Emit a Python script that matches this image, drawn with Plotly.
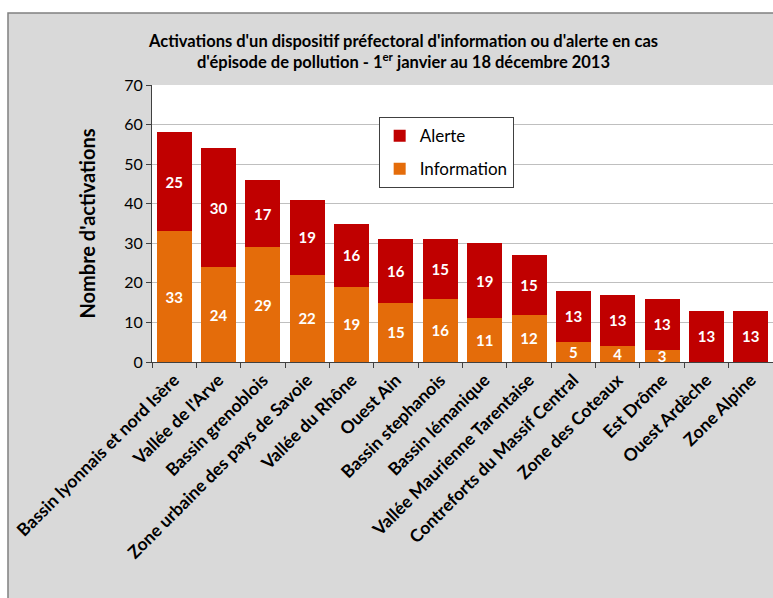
import plotly.graph_objects as go

categories = ["Bassin lyonnais et nord Isère", "Vallée de l'Arve", "Bassin grenoblois",
              "Zone urbaine des pays de Savoie", "Vallée du Rhône", "Ouest Ain",
              "Bassin stephanois", "Bassin lémanique", "Vallée Maurienne Tarentaise",
              "Contreforts du Massif Central", "Zone des Coteaux", "Est Drôme",
              "Ouest Ardèche", "Zone Alpine"]
information = [33, 24, 29, 22, 19, 15, 16, 11, 12, 5, 4, 3, 0, 0]
alerte = [25, 30, 17, 19, 16, 16, 15, 19, 15, 13, 13, 13, 13, 13]

FONT = "Lato"
fig = go.Figure()
fig.add_bar(x=categories, y=information, name="Information", legendgroup="info",
            legendrank=2,
            marker=dict(color="#E46C0A", line=dict(width=0)),
            text=[str(v) if v else "" for v in information], textposition="inside",
            insidetextanchor="middle", textangle=0, constraintext="none",
            textfont=dict(color="white", size=15, family=FONT, weight="bold"))
fig.add_bar(x=categories, y=alerte, name="Alerte", legendgroup="alerte",
            legendrank=1,
            marker=dict(color="#C00000", line=dict(width=0)),
            text=[str(v) if v else "" for v in alerte], textposition="inside",
            insidetextanchor="middle", textangle=0, constraintext="none",
            textfont=dict(color="white", size=15, family=FONT, weight="bold"))

fig.update_layout(
    width=773, height=598,
    barmode="stack", bargap=0.21,
    paper_bgcolor="white", plot_bgcolor="rgba(0,0,0,0)",
    margin=dict(l=152, r=0, t=85, b=236),
    font=dict(family=FONT, color="black"),
    title=dict(text="<b>Activations d'un dispositif préfectoral d'information ou d'alerte en cas<br>d'épisode de pollution - 1<sup>er</sup> janvier au 18 décembre 2013</b>",
               x=0.522, xanchor="center", xref="container", y=0.922, yanchor="middle",
               font=dict(size=16.5, family=FONT, color="black")),
    legend=dict(x=0.365, y=0.884, xanchor="left", yanchor="top", traceorder="grouped",
                bgcolor="white", bordercolor="#404040", borderwidth=1,
                font=dict(size=17, family=FONT), itemsizing="constant", tracegroupgap=8),
    showlegend=True,
    shapes=[
        dict(type="rect", xref="paper", yref="paper", x0=-0.2319, x1=1.05, y0=-1.0, y1=1.26,
             fillcolor="#D9D9D9", line=dict(color="#808080", width=1.5), layer="below"),
        dict(type="rect", xref="paper", yref="paper", x0=0, x1=1, y0=0, y1=1,
             fillcolor="white", line=dict(width=0), layer="below"),
    ],
)
fig.update_xaxes(showgrid=False, showline=True, linecolor="#404040", linewidth=1,
                 ticks="outside", tickson="boundaries", ticklen=5, tickcolor="#404040",
                 tickangle=-45, tickfont=dict(size=17.5, family=FONT, weight="bold"))
fig.update_yaxes(range=[0, 70], dtick=10, showgrid=True, gridcolor="#BFBFBF", gridwidth=1,
                 showline=True, linecolor="#404040", linewidth=1, zeroline=False,
                 ticks="outside", ticklen=5, tickcolor="#404040",
                 tickfont=dict(size=16, family=FONT),
                 title=dict(text="<b>Nombre d'activations</b>", standoff=23,
                            font=dict(size=20, family=FONT)))
fig.write_html("out.html")
